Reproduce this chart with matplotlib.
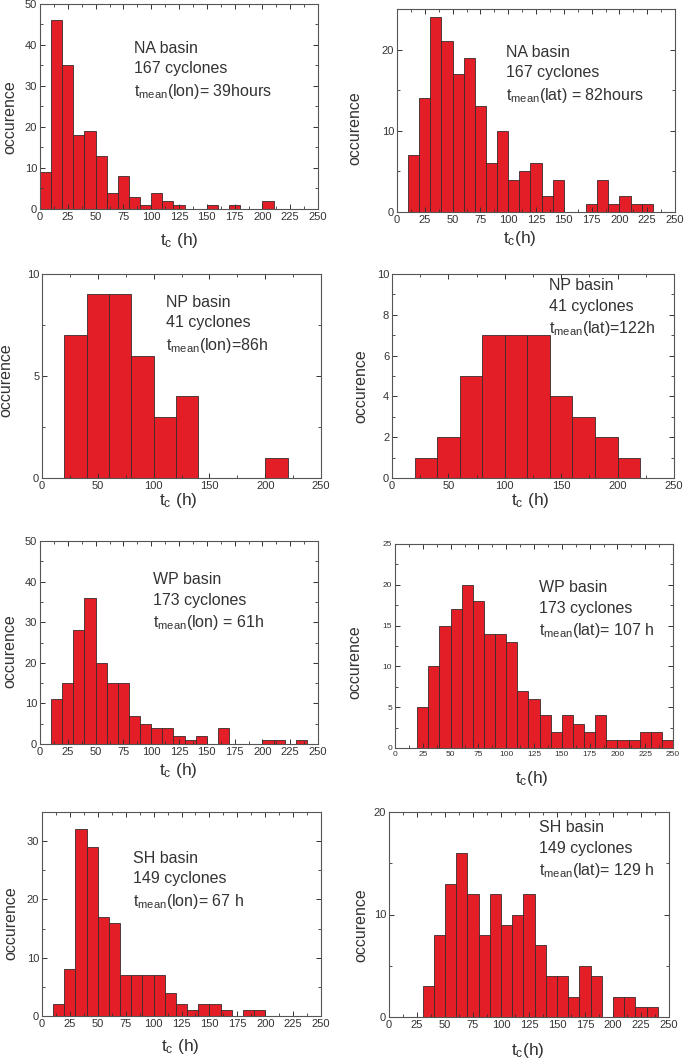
import matplotlib
matplotlib.use("Agg")
import matplotlib.pyplot as plt
from matplotlib.ticker import MultipleLocator

plt.rcParams['font.family'] = ['Liberation Sans', 'DejaVu Sans']
plt.rcParams['mathtext.default'] = 'regular'

# histogram counts (bin start, bin width, counts)
na_lon_start, na_lon_w = 0, 10
na_lon = [9, 46, 35, 18, 19, 13, 4, 8, 3, 1, 4, 2, 1, 0, 0, 1, 0, 1, 0, 0, 2]

na_lat_start, na_lat_w = 10, 10
na_lat = [7, 14, 24, 21, 17, 19, 13, 6, 10, 4, 5, 6, 2, 4, 0, 0, 1, 4, 1, 2, 1, 1]

np_lon_start, np_lon_w = 20, 20
np_lon = [7, 9, 9, 6, 3, 4, 0, 0, 0, 1]

np_lat_start, np_lat_w = 20, 20
np_lat = [1, 2, 5, 7, 7, 7, 4, 3, 2, 1]

wp_lon_start, wp_lon_w = 10, 10
wp_lon = [11, 15, 28, 36, 20, 15, 15, 7, 5, 4, 4, 2, 1, 2, 0, 4, 0, 0, 0, 1, 1, 0, 1]

wp_lat_start, wp_lat_w = 20, 10
wp_lat = [5, 10, 15, 17, 20, 18, 14, 14, 13, 7, 6, 4, 2, 4, 3, 2, 4, 1, 1, 1, 2, 2, 1]

sh_lon_start, sh_lon_w = 10, 10
sh_lon = [2, 8, 32, 29, 17, 16, 7, 7, 7, 7, 4, 2, 1, 2, 2, 1, 0, 1, 1]

sh_lat_start, sh_lat_w = 30, 10
sh_lat = [3, 8, 13, 16, 12, 8, 12, 9, 10, 12, 7, 4, 4, 2, 5, 4, 0, 2, 2, 1, 1]

notes = [
    ["NA basin", "167 cyclones", "$t_{mean}$(lon)= 39hours"],
    ["NA basin", "167 cyclones", "$t_{mean}$(lat) = 82hours"],
    ["NP basin", "41 cyclones", "$t_{mean}$(lon)=86h"],
    ["NP basin", "41 cyclones", "$t_{mean}$(lat)=122h"],
    ["WP basin", "173 cyclones", "$t_{mean}$(lon) = 61h"],
    ["WP basin", "173 cyclones", "$t_{mean}$(lat)= 107 h"],
    ["SH basin", "149 cyclones", "$t_{mean}$(lon)= 67 h"],
    ["SH basin", "149 cyclones", "$t_{mean}$(lat)= 129 h"],
]
xlabels = ["$t_c$ (h)", "$t_c$(h)", "$t_c$ (h)", "$t_c$ (h)",
           "$t_c$ (h)", "$t_c$(h)", "$t_c$ (h)", "$t_c$(h)"]

panels = [
    (na_lon_start, na_lon_w, na_lon),
    (na_lat_start, na_lat_w, na_lat),
    (np_lon_start, np_lon_w, np_lon),
    (np_lat_start, np_lat_w, np_lat),
    (wp_lon_start, wp_lon_w, wp_lon),
    (wp_lat_start, wp_lat_w, wp_lat),
    (sh_lon_start, sh_lon_w, sh_lon),
    (sh_lat_start, sh_lat_w, sh_lat),
]

W, H = 685, 1062
# axes boxes in pixels: left, top, right, bottom
boxes = [
    (40, 4, 318, 209), (397, 9, 675, 212),
    (42, 274, 321, 478), (392, 274, 674, 478),
    (40, 541, 318, 744), (395, 544, 673, 748),
    (42, 812, 321, 1016), (389, 812, 669, 1017),
]
# ylim, major y step, minor y step, major x step, tick font size
yset = [
    (50, 10, 5, 25, 8), (25, 10, 5, 25, 8),
    (10, 5, 2.5, 50, 8), (10, 2, 1, 50, 8),
    (50, 10, 5, 25, 8), (25, 5, 2.5, 25, 6),
    (35, 10, 5, 25, 8), (20, 10, 5, 25, 8),
]
# annotation top-left (pixels)
note_pos = [(134, 41), (506, 45), (166, 295), (549, 278),
            (153, 572), (539, 580), (133, 851), (539, 820)]
# label centres (pixels)
ylab_pos = [(10, 117), (355, 128), (6, 380), (361, 386),
            (10, 651), (355, 662), (11, 923), (361, 925)]
xlab_pos = [(179, 241), (520, 239), (178, 501), (530, 501),
            (178, 770), (532, 778), (180, 1046), (528, 1050)]

fig = plt.figure(figsize=(W / 100, H / 100), dpi=100)
bar_color = '#E41E26'
txt_color = '#333333'

for i, (start, w, counts) in enumerate(panels):
    l, t, r, b = boxes[i]
    ax = fig.add_axes([l / W, 1 - b / H, (r - l) / W, (b - t) / H])
    edges = [start + k * w for k in range(len(counts))]
    ax.bar(edges, counts, width=w, align='edge', color=bar_color,
           edgecolor='#3a2a2a', linewidth=0.6)
    ymax, ymaj, ymin, xmaj, fs = yset[i]
    ax.set_xlim(0, 250)
    ax.set_ylim(0, ymax)
    ax.xaxis.set_major_locator(MultipleLocator(xmaj))
    ax.xaxis.set_minor_locator(MultipleLocator(xmaj / 2))
    ax.yaxis.set_major_locator(MultipleLocator(ymaj))
    ax.yaxis.set_minor_locator(MultipleLocator(ymin))
    ax.tick_params(which='both', direction='in', top=True, right=True,
                   labelsize=fs, colors=txt_color, pad=2)
    ax.tick_params(which='major', length=3.5, width=0.7)
    ax.tick_params(which='minor', length=2, width=0.6)
    for s in ax.spines.values():
        s.set_linewidth(0.8)
        s.set_color('#555555')

    yx, yy = ylab_pos[i]
    fig.text(yx / W, 1 - yy / H, "occurence", rotation=90, fontsize=11.5,
             color=txt_color, ha='center', va='center')
    xx, xy = xlab_pos[i]
    fig.text(xx / W, 1 - xy / H, xlabels[i], fontsize=12.5,
             color=txt_color, ha='center', va='center')

    nx, ny = note_pos[i]
    for k, line in enumerate(notes[i]):
        fig.text(nx / W, 1 - (ny + k * 20.5) / H, line, fontsize=11.5,
                 color=txt_color, va='top', ha='left')

fig.savefig("out.png", dpi=100)
